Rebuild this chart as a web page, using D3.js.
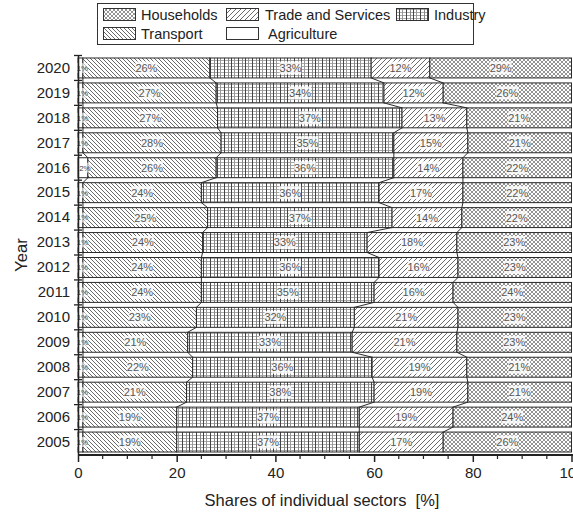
<!DOCTYPE html>
<html>
<head>
<meta charset="utf-8">
<script src="https://cdn.jsdelivr.net/npm/d3@7/dist/d3.min.js"></script>
<style>
  html, body { margin: 0; padding: 0; background: #fff; }
  svg { display: block; font-family: "Liberation Sans", Arial, sans-serif; }
</style>
</head>
<body>
<svg id="chart" width="573" height="515"></svg>
<script>
// Energy consumption shares by sector, per year (percent of the yearly total)
const years       = [2005, 2006, 2007, 2008, 2009, 2010, 2011, 2012, 2013, 2014, 2015, 2016, 2017, 2018, 2019, 2020];
const agriculture = [1, 1, 1, 1, 1, 1, 1, 1, 1, 1, 1, 2, 1, 1, 1, 1];
const transport   = [19, 19, 21, 22, 21, 23, 24, 24, 24, 25, 24, 26, 28, 27, 27, 26];
const industry    = [37, 37, 38, 36, 33, 32, 35, 36, 33, 37, 36, 36, 35, 37, 34, 33];
const trade       = [17, 19, 19, 19, 21, 21, 16, 16, 18, 14, 17, 14, 15, 13, 12, 12];
const households  = [26, 24, 21, 21, 23, 23, 24, 23, 23, 22, 22, 22, 21, 21, 26, 29];

const sectorKeys   = ["Agriculture", "Transport", "Industry", "Trade and Services", "Households"];
const sectorSeries = [agriculture, transport, industry, trade, households];
const xTicks = [0, 20, 40, 60, 80, 100];

const rows = years.map((yr, i) => {
  const r = { year: yr };
  sectorKeys.forEach((k, j) => { r[k] = sectorSeries[j][i]; });
  return r;
});

const svg = d3.select("#chart");
const margin = { left: 78, top: 55.5, bottom: 454.5 };
const axisY = 455;

// shares are stacked and normalised to the yearly total
const stack = d3.stack().keys(sectorKeys).offset(d3.stackOffsetExpand);
const layers = stack(rows);

const x = d3.scaleLinear().domain([0, 100]).range([78, 571.5]);
const y = d3.scaleBand()
  .domain(years.slice().reverse())
  .range([margin.top, margin.bottom])
  .paddingInner(0.2)
  .paddingOuter(0.1);

// ---------- hatch patterns ----------
const defs = svg.append("defs");

function hatchBack(id, s, col, w) {
  const p = defs.append("pattern").attr("id", id).attr("patternUnits", "userSpaceOnUse")
    .attr("width", s).attr("height", s);
  p.append("rect").attr("width", s).attr("height", s).attr("fill", "#fff");
  p.append("path")
    .attr("d", `M0,0L${s},${s}M${-s/2},${s/2}L${s/2},${s*1.5}M${s/2},${-s/2}L${s*1.5},${s/2}`)
    .attr("stroke", col).attr("stroke-width", w);
}
function hatchFwd(id, s, col, w) {
  const p = defs.append("pattern").attr("id", id).attr("patternUnits", "userSpaceOnUse")
    .attr("width", s).attr("height", s);
  p.append("rect").attr("width", s).attr("height", s).attr("fill", "#fff");
  p.append("path")
    .attr("d", `M0,${s}L${s},0M${-s/2},${s/2}L${s/2},${-s/2}M${s/2},${s*1.5}L${s*1.5},${s/2}`)
    .attr("stroke", col).attr("stroke-width", w);
}
hatchBack("pTransport", 4, "#6a6a6a", 1);
hatchFwd("pTrade", 5, "#6a6a6a", 1);

// households: fine cross-hatch
(function () {
  const s = 4;
  const p = defs.append("pattern").attr("id", "pHouse").attr("patternUnits", "userSpaceOnUse")
    .attr("width", s).attr("height", s);
  p.append("rect").attr("width", s).attr("height", s).attr("fill", "#fff");
  p.append("path")
    .attr("d", `M0,0L${s},${s}M${-s/2},${s/2}L${s/2},${s*1.5}M${s/2},${-s/2}L${s*1.5},${s/2}` +
               `M0,${s}L${s},0M${-s/2},${s/2}L${s/2},${-s/2}M${s/2},${s*1.5}L${s*1.5},${s/2}`)
    .attr("stroke", "#707070").attr("stroke-width", 0.75);
})();

// industry: uneven vertical grid with fine horizontals
(function () {
  const w = 14, h = 3;
  const p = defs.append("pattern").attr("id", "pIndustry").attr("patternUnits", "userSpaceOnUse")
    .attr("width", w).attr("height", h);
  p.append("rect").attr("width", w).attr("height", h).attr("fill", "#fff");
  p.append("line").attr("x1", 0).attr("x2", w).attr("y1", 0.5).attr("y2", 0.5)
    .attr("stroke", "#a8a8a8").attr("stroke-width", 1);
  [[0.5, "#444"], [4.5, "#888"], [7.5, "#444"], [10.5, "#999"]].forEach(([vx, c]) => {
    p.append("line").attr("x1", vx).attr("x2", vx).attr("y1", 0).attr("y2", h)
      .attr("stroke", c).attr("stroke-width", 1);
  });
})();

const fills = {
  "Agriculture": "#ffffff",
  "Transport": "url(#pTransport)",
  "Industry": "url(#pIndustry)",
  "Trade and Services": "url(#pTrade)",
  "Households": "url(#pHouse)"
};

// ---------- bars ----------
const bars = svg.append("g");
layers.forEach(layer => {
  bars.append("g").selectAll("rect")
    .data(layer)
    .join("rect")
    .attr("x", d => x(d[0] * 100))
    .attr("y", d => y(d.data.year))
    .attr("width", d => x(d[1] * 100) - x(d[0] * 100))
    .attr("height", y.bandwidth())
    .attr("fill", fills[layer.key])
    .attr("stroke", "#2a2a2a")
    .attr("stroke-width", 1);
});

// connector lines between the segment boundaries of consecutive years
const orderDesc = years.slice().reverse();
const connectors = svg.append("g").attr("stroke", "#2a2a2a").attr("stroke-width", 1);
layers.slice(0, -1).forEach(layer => {
  const byYear = new Map(layer.map(d => [d.data.year, d]));
  for (let i = 0; i < orderDesc.length - 1; i++) {
    const a = byYear.get(orderDesc[i]), b = byYear.get(orderDesc[i + 1]);
    connectors.append("line")
      .attr("x1", x(a[1] * 100)).attr("y1", y(orderDesc[i]) + y.bandwidth())
      .attr("x2", x(b[1] * 100)).attr("y2", y(orderDesc[i + 1]));
  }
});

// ---------- value labels ----------
const labels = svg.append("g").attr("text-anchor", "middle");
layers.forEach(layer => {
  const small = layer.key === "Agriculture";
  const fs = small ? 8 : 11;
  layer.forEach(d => {
    const v = d.data[layer.key];
    const cx = (x(d[0] * 100) + x(d[1] * 100)) / 2 + (small ? 2 : 0);
    const cy = y(d.data.year) + y.bandwidth() / 2;
    const txt = v + "%";
    const tw = txt.length * fs * 0.6;
    labels.append("rect")
      .attr("x", cx - tw / 2 - 1).attr("y", cy - fs / 2 - 1)
      .attr("width", tw + 2).attr("height", fs + 2)
      .attr("fill", "#fff").attr("opacity", small ? 0.6 : 0.85);
    labels.append("text")
      .attr("x", cx).attr("y", cy)
      .attr("dy", "0.36em")
      .attr("font-size", fs)
      .attr("fill", small ? "#444" : "#555")
      .text(txt);
  });
});

// ---------- axes ----------
const xAxisG = svg.append("g").attr("transform", `translate(0,${axisY})`);
xAxisG.call(d3.axisBottom(x).tickValues(xTicks).tickSize(7).tickPadding(5).tickFormat(d3.format("d")));
xAxisG.select(".domain").remove();
xAxisG.selectAll("text").attr("font-size", 15).attr("fill", "#222")
  .attr("font-family", "'Liberation Sans', Arial, sans-serif");
xAxisG.selectAll(".tick line").attr("stroke", "#222").attr("stroke-width", 1.5);
xAxisG.append("g").selectAll("line")
  .data(d3.range(5, 100, 5).filter(v => v % 20 !== 0))
  .join("line")
  .attr("x1", d => x(d)).attr("x2", d => x(d))
  .attr("y1", 0).attr("y2", 4)
  .attr("stroke", "#222").attr("stroke-width", 1.2);
svg.append("line")
  .attr("x1", x(0)).attr("x2", 573).attr("y1", axisY).attr("y2", axisY)
  .attr("stroke", "#222").attr("stroke-width", 2);

// y axis: year labels plus ticks on the band boundaries
const yAxisG = svg.append("g").attr("transform", `translate(${x(0)},0)`);
yAxisG.call(d3.axisLeft(y).tickSize(0).tickPadding(8));
yAxisG.select(".domain").attr("stroke", "#222").attr("stroke-width", 1.5);
yAxisG.selectAll("text").attr("font-size", 15).attr("fill", "#222")
  .attr("font-family", "'Liberation Sans', Arial, sans-serif");
const step = y.step();
yAxisG.append("g").selectAll("line")
  .data(d3.range(0, years.length))
  .join("line")
  .attr("x1", -4).attr("x2", 4)
  .attr("y1", i => margin.top + i * step)
  .attr("y2", i => margin.top + i * step)
  .attr("stroke", "#222").attr("stroke-width", 1.3);

// axis titles
svg.append("text")
  .attr("x", 322).attr("y", 506)
  .attr("text-anchor", "middle")
  .style("white-space", "pre")
  .attr("font-size", 16.5).attr("fill", "#222")
  .text("Shares of individual sectors  [%]");
svg.append("text")
  .attr("transform", "translate(27,255) rotate(-90)")
  .attr("text-anchor", "middle")
  .attr("font-size", 16.5).attr("fill", "#222")
  .text("Year");

// ---------- legend ----------
const legend = svg.append("g");
legend.append("rect")
  .attr("x", 97.5).attr("y", 3.5).attr("width", 376).attr("height", 41)
  .attr("fill", "#fff").attr("stroke", "#333").attr("stroke-width", 1);
const legendItems = [
  { key: "Households",         sx: 103, tx: 141, row: 0 },
  { key: "Trade and Services", sx: 226, tx: 265, row: 0 },
  { key: "Industry",           sx: 396, tx: 434, row: 0 },
  { key: "Transport",          sx: 103, tx: 141, row: 1 },
  { key: "Agriculture",        sx: 226, tx: 268, row: 1 }
];
legendItems.forEach(it => {
  const top = it.row === 0 ? 8.5 : 27.5;
  legend.append("rect")
    .attr("x", it.sx + 0.5).attr("y", top).attr("width", 32).attr("height", 12)
    .attr("fill", fills[it.key]).attr("stroke", "#333").attr("stroke-width", 1);
  legend.append("text")
    .attr("x", it.tx).attr("y", top + 11)
    .attr("font-size", 14.5).attr("fill", "#222")
    .text(it.key);
});
</script>
</body>
</html>
